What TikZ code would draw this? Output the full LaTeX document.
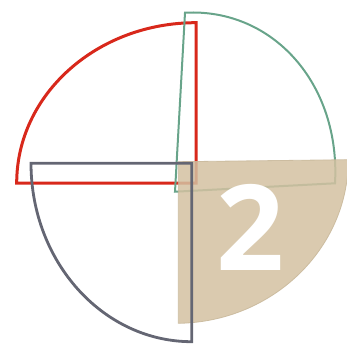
\documentclass[tikz,border=0pt]{standalone}
\usepackage{fontspec}
\newfontfamily\digitfont{Open Sans}
\definecolor{qred}{RGB}{216,40,27}
\definecolor{qgreen}{RGB}{104,164,138}
\definecolor{qgray}{RGB}{100,102,115}
\definecolor{qtan}{RGB}{211,193,161}
\tikzset{
  quarter/.style={line join=miter},
  redq/.style={quarter, draw=qred, line width=3pt},
  greenq/.style={quarter, draw=qgreen, line width=2pt},
  grayq/.style={quarter, draw=qgray, line width=2.8pt},
  tanq/.style={quarter, fill=qtan, draw=qtan!95!black, line width=0.8pt, opacity=0.85},
  bignum/.style={text=white, font=\digitfont\bfseries\fontsize{119}{119}\selectfont, inner sep=0pt, anchor=base}
}
\begin{document}
\begin{tikzpicture}
\useasboundingbox (0pt,0pt) rectangle (347pt,343pt);
% red quarter (top-left)
\begin{scope}[cm={-179.3,0,0,160.3,(196pt,160pt)}]
  \draw[redq] (0pt,0pt) -- (1pt,0pt) arc[start angle=0, end angle=90, radius=1pt] -- cycle;
\end{scope}
% green quarter (top-right)
\begin{scope}[cm={160,8.4,10,179,(175pt,151.3pt)}]
  \draw[greenq] (0pt,0pt) -- (1pt,0pt) arc[start angle=0, end angle=90, radius=1pt] -- cycle;
\end{scope}
% tan quarter (bottom-right), filled, translucent
\begin{scope}[cm={170,2,0,-161.6,(178.3pt,181.3pt)}]
  \path[tanq] (0pt,0pt) -- (1pt,0pt) arc[start angle=0, end angle=90, radius=1pt] -- cycle;
\end{scope}
% gray quarter (bottom-left)
\begin{scope}[cm={-160.7,0,0,-178.4,(191.7pt,179.7pt)}]
  \draw[grayq] (0pt,0pt) -- (1pt,0pt) arc[start angle=0, end angle=90, radius=1pt] -- cycle;
\end{scope}
\node[bignum] (num) at (250.5pt,73pt) {2};
\end{tikzpicture}
\end{document}
